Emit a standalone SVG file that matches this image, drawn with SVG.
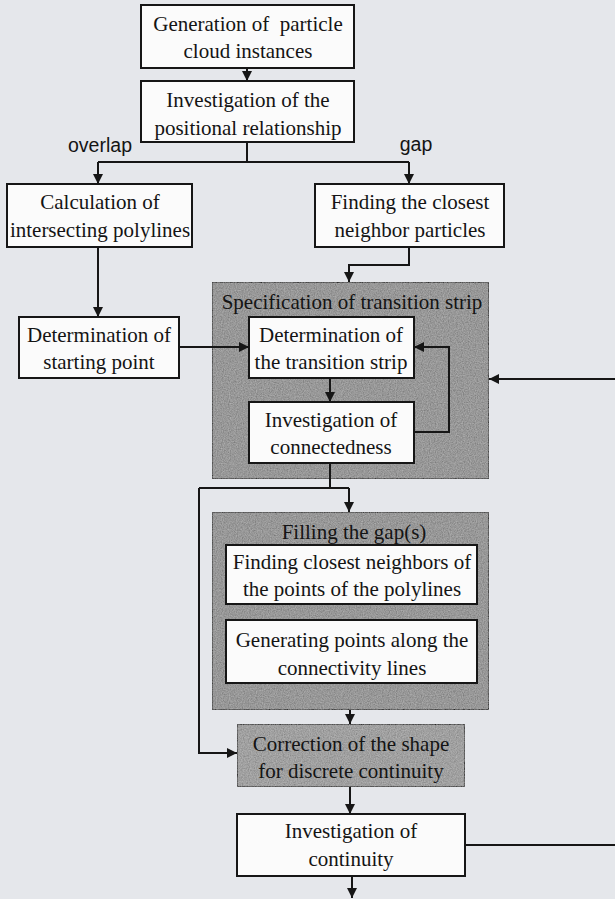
<svg xmlns="http://www.w3.org/2000/svg" width="615" height="899" viewBox="0 0 615 899">
<defs>
<marker id="ah" viewBox="0 0 10 10" refX="10" refY="5" markerWidth="10" markerHeight="10" markerUnits="userSpaceOnUse" orient="auto">
<path d="M0,0 L10,5 L0,10 z" fill="#161616"/>
</marker>
<filter id="grain" x="0" y="0" width="100%" height="100%">
<feTurbulence type="fractalNoise" baseFrequency="0.85" numOctaves="2" seed="3" result="n"/>
<feColorMatrix in="n" type="matrix" values="1 0 0 0 -0.1  1 0 0 0 -0.1  1 0 0 0 -0.1  0 0 0 0 0.3" result="g"/>
<feComposite in="g" in2="SourceGraphic" operator="in" result="gc"/>
<feMerge><feMergeNode in="SourceGraphic"/><feMergeNode in="gc"/></feMerge>
</filter>
</defs>
<style>
.box{fill:#fbfbfb;stroke:#161616;stroke-width:2}
.grp{fill:#8f8f8f;stroke:#161616;stroke-width:2}
.gbox{fill:#9b9b9b;stroke:#161616;stroke-width:2}
.t{font-family:"Liberation Serif","Times New Roman",serif;font-size:21px;fill:#141414;text-anchor:middle}
.s{font-family:"Liberation Sans",Arial,sans-serif;font-size:19.5px;fill:#141414;text-anchor:middle}
.c{fill:none;stroke:#161616;stroke-width:2}
.a{marker-end:url(#ah)}
</style>
<rect width="615" height="899" fill="#e5e7eb"/>

<g id="n_generation">
<rect class="box" x="141" y="5" width="213" height="63"/>
<text class="t" x="248" y="31" xml:space="preserve">Generation of  particle</text>
<text class="t" x="248" y="58">cloud instances</text>
</g>

<g id="n_positional">
<rect class="box" x="141" y="81" width="213" height="61"/>
<text class="t" x="248" y="107">Investigation of the</text>
<text class="t" x="248" y="135">positional relationship</text>
</g>

<g id="lbl_overlap"><text class="s" x="100" y="152">overlap</text></g>
<g id="lbl_gap"><text class="s" x="416" y="151">gap</text></g>

<g id="n_calculation">
<rect class="box" x="7" y="184" width="185" height="63"/>
<text class="t" x="100" y="209">Calculation of</text>
<text class="t" x="100" y="237">intersecting polylines</text>
</g>

<g id="n_finding_closest">
<rect class="box" x="315" y="184" width="189" height="63"/>
<text class="t" x="410" y="209">Finding the closest</text>
<text class="t" x="410" y="237">neighbor particles</text>
</g>

<g id="n_starting_point">
<rect class="box" x="19" y="317" width="160" height="61"/>
<text class="t" x="99" y="342">Determination of</text>
<text class="t" x="99" y="369">starting point</text>
</g>

<g id="n_specification">
<rect class="grp" x="212" y="282" width="277" height="197" filter="url(#grain)"/>
<text class="t" x="352" y="309">Specification of transition strip</text>
</g>

<g id="n_transition_strip">
<rect class="box" x="249" y="317" width="165" height="61"/>
<text class="t" x="331" y="342">Determination of</text>
<text class="t" x="331" y="369">the transition strip</text>
</g>

<g id="n_connectedness">
<rect class="box" x="249" y="402" width="165" height="61"/>
<text class="t" x="331" y="427">Investigation of</text>
<text class="t" x="331" y="454">connectedness</text>
</g>

<g id="n_filling">
<rect class="grp" x="212" y="512" width="277" height="198" filter="url(#grain)"/>
<text class="t" x="354" y="539">Filling the gap(s)</text>
</g>

<g id="n_closest_neighbors">
<rect class="box" x="226" y="545" width="251" height="59"/>
<text class="t" x="352" y="569">Finding closest neighbors of</text>
<text class="t" x="352" y="596">the points of the polylines</text>
</g>

<g id="n_generating_points">
<rect class="box" x="226" y="620" width="251" height="63"/>
<text class="t" x="352" y="647">Generating points along the</text>
<text class="t" x="352" y="675">connectivity lines</text>
</g>

<g id="n_correction">
<rect class="gbox" x="237" y="724" width="228" height="63" filter="url(#grain)"/>
<text class="t" x="351" y="751">Correction of the shape</text>
<text class="t" x="351" y="778">for discrete continuity</text>
</g>

<g id="n_continuity">
<rect class="box" x="237" y="814" width="228" height="62"/>
<text class="t" x="351" y="838">Investigation of</text>
<text class="t" x="351" y="866">continuity</text>
</g>

<g id="connectors">
<path class="c a" d="M247,68 V81"/>
<path class="c" d="M247,142 V162 M98,162 H409"/>
<path class="c a" d="M98,162 V184"/>
<path class="c a" d="M409,162 V184"/>
<path class="c a" d="M409,247 V265 H349 V282"/>
<path class="c a" d="M98,247 V317"/>
<path class="c a" d="M179,347 H249"/>
<path class="c a" d="M330,378 V402"/>
<path class="c a" d="M414,432 H449 V347 H414"/>
<path class="c a" d="M615,379 H489"/>
<path class="c" d="M330,463 V488 M199,488 H349"/>
<path class="c a" d="M349,488 V512"/>
<path class="c a" d="M199,488 V753 H237"/>
<path class="c a" d="M350,710 V724"/>
<path class="c a" d="M350,787 V814"/>
<path class="c" d="M465,845 H615"/>
<path class="c a" d="M352,876 V898"/>
</g>
</svg>
